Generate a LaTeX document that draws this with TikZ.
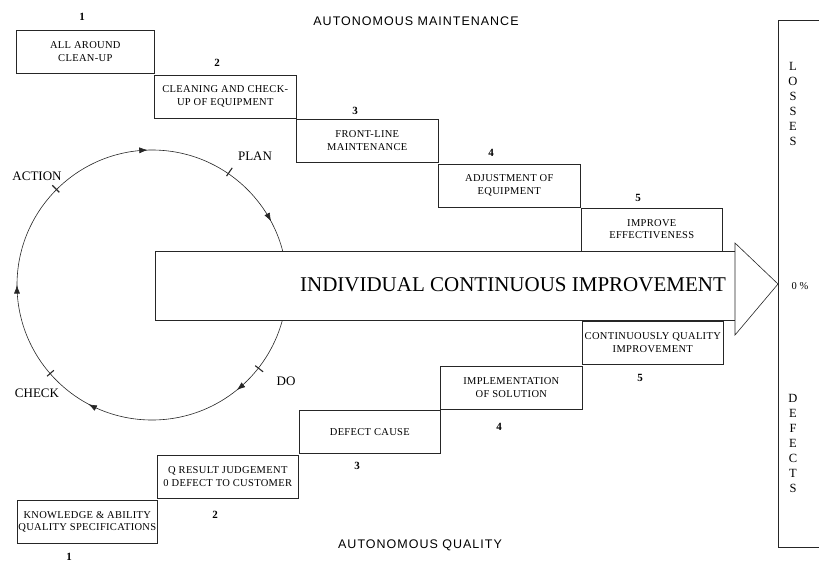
\documentclass[tikz,border=0pt]{standalone}
\usepackage{fontspec}
\setmainfont{Liberation Serif}
\newfontfamily\titlefont{Liberation Sans}[LetterSpace=8]
\usetikzlibrary{arrows.meta,decorations.markings}
\begin{document}
\begin{tikzpicture}[x=1pt,y=-1pt,
  line/.style={draw=black!85, line width=0.6pt},
  stepbox/.style={line, minimum width=142pt, minimum height=43pt, anchor=north west,
    align=center, inner sep=1pt,
    font=\fontsize{10.5}{12.5}\selectfont\addfontfeatures{LetterSpace=3}},
  num/.style={font=\fontsize{11}{12}\selectfont\bfseries},
  lbl/.style={font=\fontsize{13}{15}\selectfont},
  side/.style={align=center, font=\fontsize{12.5}{15}\selectfont},
  ttl/.style={font=\titlefont\fontsize{12.5}{14}\selectfont},
  circ/.style={draw=black!85, line width=0.6pt},
  ctip/.tip={Latex[length=8.5pt,width=6pt]}
]
\useasboundingbox (0,0) rectangle (819,563);

% PDCA circle
\coordinate (cc) at (152,285);
\draw[circ, postaction={decorate}, decoration={markings,
   mark=at position 0.142 with {\arrow{ctip}},
   mark=at position 0.328 with {\arrow{ctip}},
   mark=at position 0.5 with {\arrow{ctip}},
   mark=at position 0.745 with {\arrow{ctip}},
   mark=at position 0.922 with {\arrow{ctip}}}]
   (cc) ++(0:135) arc[start angle=0, end angle=360, radius=135];
\draw[circ, line width=1.1pt] (cc) ++(-55.6:132) -- ++(-55.6:10);
\draw[circ, line width=1.1pt] (cc) ++(-135:131) -- ++(-135:10);
\draw[circ, line width=1.1pt] (cc) ++(38:131) -- ++(38:10);
\draw[circ, line width=1.1pt] (cc) ++(139:130) -- ++(139:9);
\node[lbl] (plan) at (255,156) {PLAN};
\node[lbl] (action) at (37,176) {ACTION};
\node[lbl] (do) at (286,381) {DO};
\node[lbl] (check) at (37,393) {CHECK};

% titles
\node[ttl] (am) at (416,21) {AUTONOMOUS MAINTENANCE};
\node[ttl] (aq) at (420,545) {AUTONOMOUS QUALITY};

% autonomous maintenance steps
\node[stepbox, minimum width=138pt] (b1) at (16,30) {ALL AROUND\\CLEAN-UP};
\node[stepbox] (b2) at (154,74.5) {CLEANING AND CHECK-\\UP OF EQUIPMENT};
\node[stepbox] (b3) at (296,119) {FRONT-LINE\\MAINTENANCE};
\node[stepbox] (b4) at (438,163.5) {ADJUSTMENT OF\\EQUIPMENT};
\node[stepbox, minimum width=141pt] (b5) at (581,207.5) {IMPROVE\\EFFECTIVENESS};
\node[num] (n1) at (82,17) {1};
\node[num] (n2) at (217,63) {2};
\node[num] (n3) at (355,111) {3};
\node[num] (n4) at (491,153) {4};
\node[num] (n5) at (638,198) {5};

% autonomous quality steps
\node[stepbox, minimum width=140pt] (q1) at (17,500) {KNOWLEDGE \& ABILITY\\QUALITY SPECIFICATIONS};
\node[stepbox, minimum width=141pt] (q2) at (157,455) {Q RESULT JUDGEMENT\\0 DEFECT TO CUSTOMER};
\node[stepbox, minimum width=141pt] (q3) at (299,410) {DEFECT CAUSE};
\node[stepbox] (q4) at (440,366) {IMPLEMENTATION\\OF SOLUTION};
\node[stepbox, minimum width=141pt] (q5) at (582,321) {CONTINUOUSLY QUALITY\\IMPROVEMENT};
\node[num] (m1) at (69,557) {1};
\node[num] (m2) at (215,515) {2};
\node[num] (m3) at (357,466) {3};
\node[num] (m4) at (499,427) {4};
\node[num] (m5) at (640,378) {5};

% big arrow
\draw[line, fill=white] (155,251) rectangle (735,320);
\draw[line, fill=white] (735,243) -- (778,284) -- (735,335) -- cycle;
\node[font=\fontsize{21}{24}\selectfont] (ici) at (513,285) {INDIVIDUAL CONTINUOUS IMPROVEMENT};

% right scale
\draw[line] (819,20) -- (778,20) -- (778,547) -- (819,547);
\node[side] (losses) at (793,104) {L\\O\\S\\S\\E\\S};
\node[side] (defects) at (793,443) {D\\E\\F\\E\\C\\T\\S};
\node[font=\fontsize{10.5}{12}\selectfont] (zero) at (800,286) {0 \%};
\end{tikzpicture}
\end{document}
